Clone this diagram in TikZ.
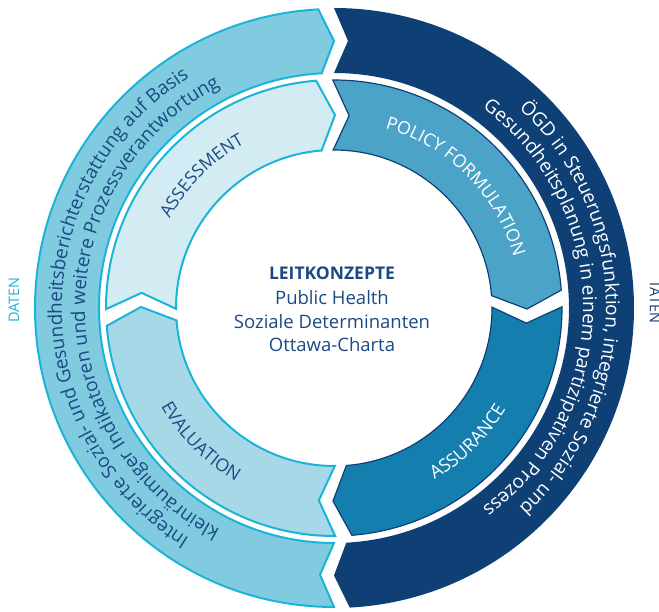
\documentclass[tikz,border=0pt]{standalone}
\usepackage{fontspec}
\setmainfont{Open Sans}
\usetikzlibrary{decorations.text}
\definecolor{navy}{HTML}{0E4076}
\definecolor{outerlight}{HTML}{80CBE0}
\definecolor{cyanline}{HTML}{1BB4D6}
\definecolor{assesscol}{HTML}{D3ECF3}
\definecolor{evalcol}{HTML}{A6D8E8}
\definecolor{policycol}{HTML}{4BA4C8}
\definecolor{assurcol}{HTML}{147EAE}
\definecolor{textnavy}{HTML}{1B4A82}

% #1 start angle (larger), #2 end angle (smaller), #3 rin, #4 rout, #5 chevron half-depth, #6 half-gap, #7 style
\newcommand{\RingPiece}[7]{%
  \pgfmathsetmacro{\rpAs}{#1+#5-#6}%
  \pgfmathsetmacro{\rpTs}{#1-#5-#6}%
  \pgfmathsetmacro{\rpAe}{#2+#5+#6}%
  \pgfmathsetmacro{\rpTe}{#2-#5+#6}%
  \pgfmathsetmacro{\rpRm}{(#3+#4)/2}%
  \draw[#7] (\rpAs:#4pt) arc[start angle=\rpAs, end angle=\rpAe, radius=#4pt]
     -- (\rpTe:\rpRm pt) -- (\rpAe:#3pt)
     arc[start angle=\rpAe, end angle=\rpAs, radius=#3pt]
     -- (\rpTs:\rpRm pt) -- cycle;
}

\tikzset{
  lightpiece/.style={fill=#1, draw=cyanline, line width=2pt, line join=miter},
  darkpiece/.style={fill=#1, draw=navy, line width=1.2pt, line join=miter},
  centertext/.style={text=textnavy, anchor=base, inner sep=0pt, font=\fontsize{18.5}{22}\selectfont},
}

\begin{document}
\begin{tikzpicture}
\useasboundingbox (-334pt,-304pt) rectangle (325pt,308pt);

% outer ring
\RingPiece{270}{90}{235}{299}{1.5}{1.5}{lightpiece=outerlight}
\RingPiece{90}{-90}{235}{300}{1.5}{1.5}{fill=navy, draw=none}

% inner ring
\RingPiece{180}{90}{158}{228}{2.4}{2.1}{lightpiece=assesscol}
\RingPiece{90}{0}{158}{228}{2.4}{2.1}{darkpiece=policycol}
\RingPiece{0}{-90}{158}{228}{2.4}{2.1}{darkpiece=assurcol}
\RingPiece{270}{180}{158}{228}{2.4}{2.1}{lightpiece=evalcol}

% inner ring labels
\path[decorate, decoration={text along path, text align=center,
  text={|\fontsize{17.5}{17.5}\selectfont\color{textnavy}|ASSESSMENT}}]
  (175:187pt) arc[start angle=175, end angle=95, radius=187pt];
\path[decorate, decoration={text along path, text align=center,
  text={|\fontsize{17.8}{17.8}\selectfont\color{white}|POLICY FORMULATION}}]
  (88:187pt) arc[start angle=88, end angle=2, radius=187pt];
\path[decorate, decoration={text along path, text align=center,
  text={|\fontsize{18}{18}\selectfont\color{white}|ASSURANCE}}]
  (-88:199pt) arc[start angle=-88, end angle=-2, radius=199pt];
\path[decorate, decoration={text along path, text align=center,
  text={|\fontsize{17.8}{17.8}\selectfont\color{textnavy}|EVALUATION}}]
  (182:199pt) arc[start angle=182, end angle=268, radius=199pt];

% outer ring texts
\path[decorate, decoration={text along path, text align=center,
  text={|\fontsize{19}{19}\selectfont\color{textnavy}|Integrierte Sozial- und Gesundheitsberichterstattung auf Basis}}]
  (265:272pt) arc[start angle=265, end angle=95, radius=272pt];
\path[decorate, decoration={text along path, text align=center,
  text={|\fontsize{19}{19}\selectfont\color{textnavy}|kleinräumiger Indikatoren und weitere Prozessverantwortung}}]
  (265:249pt) arc[start angle=265, end angle=95, radius=249pt];
\path[decorate, decoration={text along path, text align=center,
  text={|\fontsize{19}{19}\selectfont\color{white}|ÖGD in Steuerungsfunktion, integrierte Sozial- und}}]
  (85:272pt) arc[start angle=85, end angle=-85, radius=272pt];
\path[decorate, decoration={text along path, text align=center,
  text={|\fontsize{19}{19}\selectfont\color{white}|Gesundheitsplanung in einem partizipativen Prozess}}]
  (85:249pt) arc[start angle=85, end angle=-85, radius=249pt];

% centre
\node[centertext, font=\fontsize{17.5}{20}\selectfont\bfseries] (ctitle) at (-2pt,28pt) {LEITKONZEPTE};
\node[centertext] (cline1) at (-2pt,3pt) {Public Health};
\node[centertext] (cline2) at (-2pt,-21pt) {Soziale Determinanten};
\node[centertext] (cline3) at (-2pt,-44pt) {Ottawa-Charta};

% side labels
\node[text=cyanline, rotate=90, font=\fontsize{14.5}{14.5}\selectfont, inner sep=0pt] (daten) at (-320pt,8pt) {DATEN};
\node[text=navy, rotate=-90, font=\fontsize{14.5}{14.5}\selectfont, inner sep=0pt] (taten) at (321pt,6pt) {TATEN};
\end{tikzpicture}
\end{document}
